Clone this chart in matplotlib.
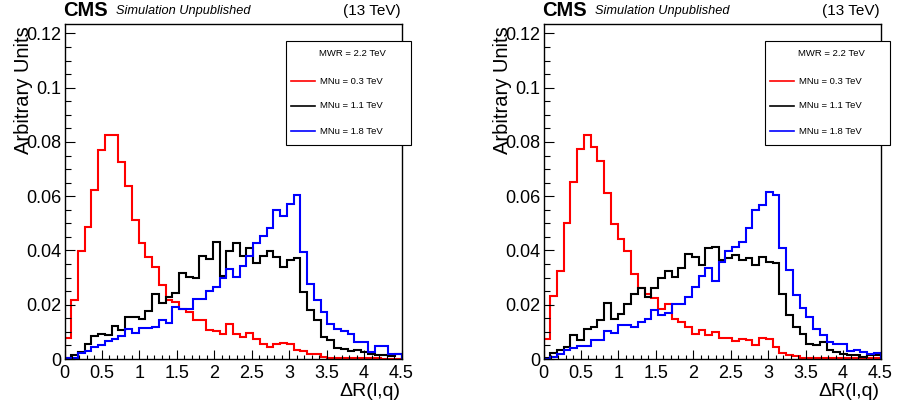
import matplotlib
matplotlib.use("Agg")
import matplotlib.pyplot as plt
import matplotlib.patches as patches
from matplotlib.lines import Line2D
from matplotlib.ticker import MultipleLocator, FixedFormatter, FixedLocator
import numpy as np

plt.rcParams['font.family'] = ['Liberation Sans', 'DejaVu Sans']

# 50 bins over 0 - 4.5 in Delta R
bin_edges = np.linspace(0, 4.5, 51)

legend_header = "MWR = 2.2 TeV"
series_labels = ["MNu = 0.3 TeV", "MNu = 1.1 TeV", "MNu = 1.8 TeV"]
series_colors = ["#ff0000", "#000000", "#0000ff"]

# left panel
left_red = [0.0079, 0.0219, 0.0399, 0.0486, 0.0622, 0.0772, 0.0825, 0.0825, 0.0725, 0.0636,
            0.0513, 0.0429, 0.0377, 0.0338, 0.0273, 0.0217, 0.0210,
            0.0186, 0.0173, 0.0143, 0.0143, 0.0106, 0.0104, 0.0091, 0.0128, 0.0093,
            0.0081, 0.0096, 0.0075, 0.0054, 0.0046, 0.0056, 0.0059, 0.0054,
            0.0035, 0.0030, 0.0020, 0.0018, 0.0008, 0.0005, 0.0005, 0.0003, 0.0004,
            0.0003, 0.0002, 0.0002, 0.0002, 0.0001, 0.0001, 0.0001]
left_black = [0.0004, 0.0013, 0.0025, 0.0056, 0.0083, 0.0093, 0.0090, 0.0120, 0.0108, 0.0155,
              0.0155, 0.0149, 0.0177, 0.0241, 0.0208, 0.0229, 0.0244,
              0.0318, 0.0301, 0.0297, 0.0380, 0.0367, 0.0433, 0.0306, 0.0399, 0.0429,
              0.0380, 0.0410, 0.0353, 0.0380, 0.0399, 0.0377, 0.0338, 0.0365,
              0.0372, 0.0247, 0.0180, 0.0143, 0.0081, 0.0069, 0.0041, 0.0038, 0.0029,
              0.0034, 0.0025, 0.0019, 0.0013, 0.0013, 0.0010, 0.0019]
left_blue = [0.0002, 0.0004, 0.0023, 0.0031, 0.0044, 0.0052, 0.0065, 0.0075, 0.0083, 0.0112,
             0.0096, 0.0116, 0.0116, 0.0118, 0.0145, 0.0133, 0.0192,
             0.0186, 0.0186, 0.0223, 0.0223, 0.0251, 0.0264, 0.0297, 0.0330, 0.0303,
             0.0343, 0.0380, 0.0429, 0.0454, 0.0482, 0.0550, 0.0528, 0.0572,
             0.0606, 0.0396, 0.0276, 0.0219, 0.0173, 0.0128, 0.0109, 0.0103, 0.0091,
             0.0062, 0.0062, 0.0025, 0.0047, 0.0047, 0.0017, 0.0019]

# right panel
right_red = [0.0075, 0.0231, 0.0324, 0.0501, 0.0653, 0.0775, 0.0825, 0.0782, 0.0729, 0.0612,
             0.0497, 0.0441, 0.0398, 0.0312, 0.0262, 0.0241, 0.0225,
             0.0186, 0.0201, 0.0149, 0.0136, 0.0118, 0.0091, 0.0108, 0.0087, 0.0099,
             0.0078, 0.0078, 0.0066, 0.0075, 0.0071, 0.0053, 0.0078, 0.0075,
             0.0044, 0.0021, 0.0013, 0.0010, 0.0004, 0.0005, 0.0003, 0.0005, 0.0004,
             0.0003, 0.0004, 0.0002, 0.0003, 0.0002, 0.0002, 0.0004]
right_black = [0.0004, 0.0021, 0.0034, 0.0044, 0.0087, 0.0069, 0.0112, 0.0118, 0.0143, 0.0207,
               0.0146, 0.0167, 0.0201, 0.0239, 0.0262, 0.0227, 0.0260,
               0.0297, 0.0325, 0.0303, 0.0334, 0.0387, 0.0375, 0.0345, 0.0408, 0.0414,
               0.0365, 0.0371, 0.0383, 0.0365, 0.0371, 0.0346, 0.0375, 0.0359,
               0.0353, 0.0241, 0.0161, 0.0118, 0.0091, 0.0056, 0.0053, 0.0062, 0.0034,
               0.0025, 0.0019, 0.0013, 0.0016, 0.0009, 0.0013, 0.0016]
right_blue = [0.0000, 0.0007, 0.0019, 0.0034, 0.0040, 0.0047, 0.0047, 0.0069, 0.0069, 0.0103,
              0.0096, 0.0124, 0.0124, 0.0118, 0.0136, 0.0149, 0.0180,
              0.0161, 0.0170, 0.0202, 0.0202, 0.0227, 0.0264, 0.0306, 0.0334, 0.0288,
              0.0359, 0.0399, 0.0412, 0.0433, 0.0482, 0.0550, 0.0569, 0.0614,
              0.0606, 0.0408, 0.0328, 0.0235, 0.0188, 0.0153, 0.0112, 0.0087, 0.0062,
              0.0054, 0.0056, 0.0031, 0.0034, 0.0025, 0.0019, 0.0021]

x_ticks = [0, 0.5, 1, 1.5, 2, 2.5, 3, 3.5, 4, 4.5]
x_ticklabels = ["0", "0.5", "1", "1.5", "2", "2.5", "3", "3.5", "4", "4.5"]
y_ticks = [0, 0.02, 0.04, 0.06, 0.08, 0.1, 0.12]
y_ticklabels = ["0", "0.02", "0.04", "0.06", "0.08", "0.1", "0.12"]

W, H = 897, 409
fig = plt.figure(figsize=(W / 100, H / 100), dpi=100)


def fx(px):
    return px / W


def fy(py):
    return 1 - py / H


def draw_panel(x0, hists):
    # x0: left edge of the frame in pixels
    ax = fig.add_axes([fx(x0), fy(359), fx(337), 335 / H])
    for vals, col in zip(hists, series_colors):
        ax.stairs(vals, bin_edges, color=col, linewidth=1.5, baseline=0)
    ax.set_xlim(0, 4.5)
    ax.set_ylim(0, 0.1235)
    ax.xaxis.set_major_locator(FixedLocator(x_ticks))
    ax.xaxis.set_major_formatter(FixedFormatter(x_ticklabels))
    ax.xaxis.set_minor_locator(MultipleLocator(0.1))
    ax.yaxis.set_major_locator(FixedLocator(y_ticks))
    ax.yaxis.set_major_formatter(FixedFormatter(y_ticklabels))
    ax.yaxis.set_minor_locator(MultipleLocator(0.005))
    ax.tick_params(axis='x', which='major', direction='in', length=6.5, width=0.8,
                   labelsize=13, pad=4)
    ax.tick_params(axis='x', which='minor', direction='in', length=3.2, width=0.8)
    ax.tick_params(axis='y', which='major', direction='in', length=7.5, width=0.8,
                   labelsize=13, pad=2)
    ax.tick_params(axis='y', which='minor', direction='in', length=4, width=0.8)
    for sp in ax.spines.values():
        sp.set_linewidth(1.0)

    # axis titles
    fig.text(fx(x0 - 41), fy(26), "Arbitrary Units", rotation=90, ha='center', va='top',
             fontsize=14.5)
    fig.text(fx(x0 + 336), fy(391), "\u0394R(l,q)", ha='right', va='center', fontsize=14)

    # header
    fig.text(fx(x0 - 1), fy(10), "CMS", ha='left', va='center', fontsize=14.5,
             fontweight='bold')
    fig.text(fx(x0 + 51), fy(11), "Simulation Unpublished", ha='left', va='center',
             fontsize=9.2, style='italic')
    fig.text(fx(x0 + 336), fy(11), "(13 TeV)", ha='right', va='center', fontsize=11)

    # legend box
    lx = x0 + 221
    box = patches.Rectangle((fx(lx), fy(145)), fx(125), 104 / H, transform=fig.transFigure,
                            facecolor='white', edgecolor='black', linewidth=0.8,
                            zorder=5)
    fig.patches.append(box)
    fig.text(fx(lx + 67), fy(54), legend_header, ha='center', va='center', fontsize=6.8,
             zorder=6)
    for k, (lab, col) in enumerate(zip(series_labels, series_colors)):
        yy = 81 + 25 * k
        fig.lines.append(Line2D([fx(lx + 5), fx(lx + 29)], [fy(yy), fy(yy)],
                                transform=fig.transFigure, color=col, linewidth=1.2,
                                zorder=6))
        fig.text(fx(lx + 34), fy(yy), lab, ha='left', va='center', fontsize=6.8, zorder=6)
    return ax


draw_panel(64.5, [left_red, left_black, left_blue])
draw_panel(543.5, [right_red, right_black, right_blue])

fig.savefig("out.png", dpi=100)
